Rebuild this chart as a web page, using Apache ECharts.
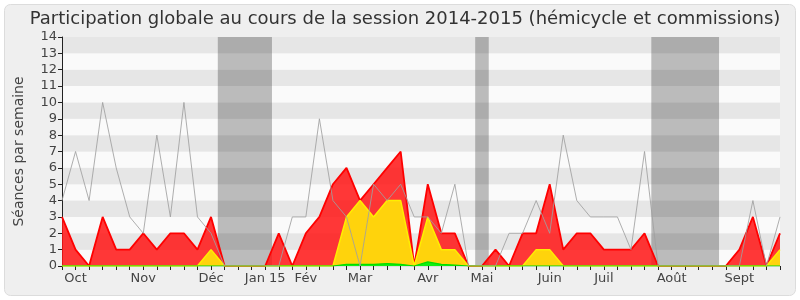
<!DOCTYPE html>
<html>
<head>
<meta charset="utf-8">
<script src="https://cdn.jsdelivr.net/npm/echarts@6/dist/echarts.min.js"></script>
<style>
html,body{margin:0;padding:0;background:#ffffff;}
#c{width:800px;height:300px;}
</style>
</head>
<body>
<div id="c"></div>
<script>
// Week index 0..53 (Oct 2014 -> Sept 2015)
const monthLabels = {1:'Oct',6:'Nov',11:'Déc',15:'Jan 15',18:'Fév',22:'Mar',27:'Avr',31:'Mai',36:'Juin',40:'Juil',45:'Août',50:'Sept'};
const redValues = [3,1,0,3,1,1,2,1,2,2,1,3,0,0,0,0,2,0,2,3,5,6,4,5,6,7,0,5,2,2,0,0,1,0,2,2,5,1,2,2,1,1,1,2,0,0,0,0,0,0,1,3,0,2];
const yellowValues = [0,0,0,0,0,0,0,0,0,0,0,1,0,0,0,0,0,0,0,0,0,3,4,3,4,4,0,3,1,1,0,0,0,0,0,1,1,0,0,0,0,0,0,0,0,0,0,0,0,0,0,0,0,1];
const greenValues = [0,0,0,0,0,0,0,0,0,0,0,0,0,0,0,0,0,0,0,0,0,0.1,0.1,0.1,0.15,0.1,0,0.25,0.1,0.05,0,0,0,0,0,0,0,0,0,0,0,0,0,0,0,0,0,0,0,0,0,0,0,0];
const grayValues = [4,7,4,10,6,3,2,8,3,10,3,2,0,0,0,0,0,3,3,9,4,3,0,5,4,5,3,3,2,5,0,0,0,2,2,4,2,8,4,3,3,3,1,7,0,0,0,0,0,0,0,4,0,3];
const vacationWeeks = [[12,15],[31,31],[44,48]];

const toPairs = arr => arr.map((v,i)=>[i,v]);
const FONT = 'DejaVu Sans';

const chart = echarts.init(document.getElementById('c'), null, {renderer:'canvas'});
chart.setOption({
  animation:false,
  backgroundColor:'transparent',
  graphic:[{type:'rect',z:-10,shape:{x:4.5,y:4.5,width:791,height:291,r:6},style:{fill:'#efefef',stroke:'#dcdcdc',lineWidth:1}}],
  title:{text:'Participation globale au cours de la session 2014-2015 (hémicycle et commissions)',left:400,textAlign:'center',top:5,
    textStyle:{fontFamily:FONT,fontSize:18,fontWeight:'normal',color:'#333333'}},
  grid:{left:62,right:20,top:37,bottom:34},
  xAxis:[{type:'value',min:0,max:53,interval:1,
    axisLine:{show:true,onZero:false,lineStyle:{color:'#222',width:1}},
    axisTick:{show:true,length:4,lineStyle:{color:'#222'}},
    splitLine:{show:false},
    axisLabel:{fontFamily:FONT,fontSize:13,color:'#444',margin:6,showMinLabel:true,showMaxLabel:true,
      formatter:v=>monthLabels[v]||''}},
    {type:'value',position:'top',min:0,max:53,interval:1,
    axisLine:{show:true,lineStyle:{color:'#dddddd'}},
    axisTick:{show:true,inside:true,length:2,lineStyle:{color:'#222'}},
    axisLabel:{show:false},splitLine:{show:false}}],
  yAxis:{type:'value',min:0,max:14,interval:1,
    name:'Séances par semaine',nameLocation:'middle',nameGap:36,
    nameTextStyle:{fontFamily:FONT,fontSize:14,color:'#444'},
    axisLine:{show:true,lineStyle:{color:'#222'}},
    axisTick:{show:true,length:4,lineStyle:{color:'#222'}},
    axisLabel:{fontFamily:FONT,fontSize:13,color:'#444',margin:5},
    splitLine:{show:false},
    splitArea:{show:true,areaStyle:{color:['#fafafa','#e6e6e6']}}},
  series:[
    {type:'line',data:[],z:1,silent:true,
      markArea:{silent:true,itemStyle:{color:'rgba(0,0,0,0.25)'},
        data:vacationWeeks.map(w=>[{xAxis:w[0]-0.5},{xAxis:w[1]+0.5}])}},
    {type:'line',data:toPairs(redValues),z:2,symbol:'none',
      lineStyle:{color:'#ff0000',width:1.8},areaStyle:{color:'rgba(255,20,20,0.85)',opacity:1}},
    {type:'line',data:toPairs(yellowValues),z:3,symbol:'none',
      lineStyle:{color:'#ffee00',width:1.5},areaStyle:{color:'#ffd30c',opacity:1}},
    {type:'line',data:toPairs(greenValues),z:4,symbol:'none',
      lineStyle:{color:'#00dd00',width:1.2},areaStyle:{color:'#11ee11',opacity:1}},
    {type:'line',data:toPairs(grayValues),z:5,symbol:'none',
      lineStyle:{color:'rgba(160,160,160,0.85)',width:1}}
  ]
});
</script>
</body>
</html>
